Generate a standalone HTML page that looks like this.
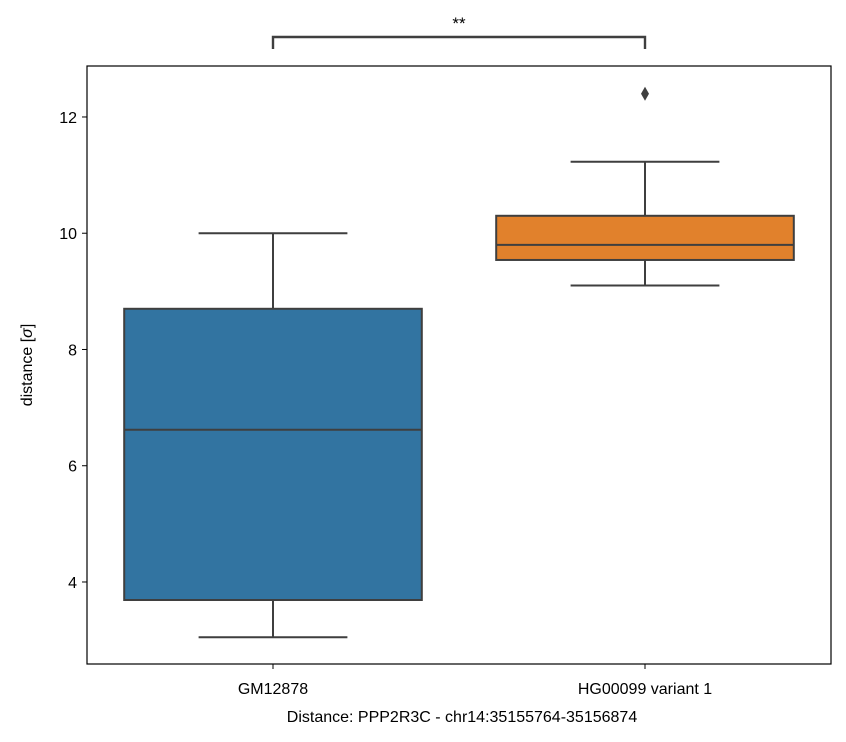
<!DOCTYPE html>
<html><head><meta charset="utf-8"><style>
body{margin:0;background:#fff;}
svg{display:block;font-family:"Liberation Sans","DejaVu Sans",sans-serif;}
</style></head><body>
<svg id="chart" width="846" height="742"></svg>
<script>
const categories=["GM12878","HG00099 variant 1"];
const whiskerLow=[3.05,9.10];
const q1=[3.69,9.54];
const medians=[6.62,9.80];
const q3=[8.70,10.30];
const whiskerHigh=[10.0,11.23];
const outliers=[[],[12.40]];
const yTicks=[4,6,8,10,12];
const colors=["#3274a1","#e1812c"];

const svg=document.getElementById('chart');
const NS="http://www.w3.org/2000/svg";
const L=87,R=831,T=66,B=664,yMin=2.589,yMax=12.877;
const y=v=>B-(v-yMin)/(yMax-yMin)*(B-T);
const band=(R-L)/categories.length;
const xc=i=>L+band*(i+0.5);
const bw=band*0.8;
const stroke="#3f3f3f";
function mk(tag,attrs,name,parent){const e=document.createElementNS(NS,tag);for(const k in attrs)e.setAttribute(k,attrs[k]);


(parent||svg).appendChild(e);return e;}

categories.forEach((c,i)=>{
 const g=mk('g',{},'box-'+i);
 const cx=xc(i);
 mk('line',{x1:cx,x2:cx,y1:y(whiskerLow[i]),y2:y(q1[i]),stroke,'stroke-width':2},'lower-whisker',g);
 mk('line',{x1:cx,x2:cx,y1:y(q3[i]),y2:y(whiskerHigh[i]),stroke,'stroke-width':2},'upper-whisker',g);
 mk('line',{x1:cx-bw/4,x2:cx+bw/4,y1:y(whiskerLow[i]),y2:y(whiskerLow[i]),stroke,'stroke-width':2},'lower-cap',g);
 mk('line',{x1:cx-bw/4,x2:cx+bw/4,y1:y(whiskerHigh[i]),y2:y(whiskerHigh[i]),stroke,'stroke-width':2},'upper-cap',g);
 mk('rect',{x:cx-bw/2,y:y(q3[i]),width:bw,height:y(q1[i])-y(q3[i]),fill:colors[i],stroke,'stroke-width':2},'iqr-box',g);
 mk('line',{x1:cx-bw/2,x2:cx+bw/2,y1:y(medians[i]),y2:y(medians[i]),stroke,'stroke-width':2},'median-line',g);
 outliers[i].forEach(o=>{const py=y(o);
  mk('polygon',{points:`${cx},${py-7} ${cx+4},${py} ${cx},${py+7} ${cx-4},${py}`,fill:stroke},'outlier-point',g);});
 mk('line',{x1:cx,x2:cx,y1:B,y2:B+5,stroke:'#000','stroke-width':1},'x-tick',svg);
 const t=mk('text',{x:cx,y:B+30,'text-anchor':'middle','font-size':16,fill:'#000'},'x-tick-label');t.textContent=c;
});
yTicks.forEach(v=>{
 mk('line',{x1:L-5,x2:L,y1:y(v),y2:y(v),stroke:'#000','stroke-width':1},'y-tick');
 const t=mk('text',{x:L-10,y:y(v)+6,'text-anchor':'end','font-size':16,fill:'#000'},'y-tick-label');t.textContent=v;
});
mk('rect',{x:L,y:T,width:R-L,height:B-T,fill:'none',stroke:'#000','stroke-width':1.2},'plot-frame');
const yl=mk('text',{x:32,y:(T+B)/2,'text-anchor':'middle','font-size':16,fill:'#000',transform:`rotate(-90 32 ${(T+B)/2})`},'y-axis-title');
yl.innerHTML='distance [<tspan font-style="italic">σ</tspan>]';
const xl=mk('text',{x:(L+R)/2+3,y:722,'text-anchor':'middle','font-size':16,fill:'#000'},'x-axis-title');
xl.textContent='Distance:  PPP2R3C - chr14:35155764-35156874';
mk('path',{d:`M${xc(0)} 49 V37 H${xc(1)} V49`,fill:'none',stroke,'stroke-width':2.4},'significance-bracket');
const st=mk('text',{x:(xc(0)+xc(1))/2,y:29,'text-anchor':'middle','font-size':17,fill:'#000'},'significance-label');st.textContent='**';
</script>
</body></html>
